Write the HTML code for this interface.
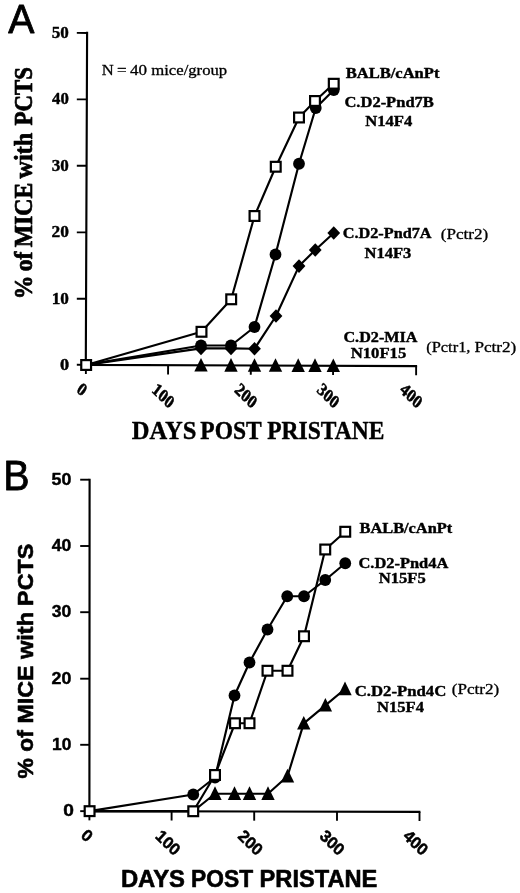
<!DOCTYPE html>
<html><head><meta charset="utf-8"><title>Figure</title>
<style>
html,body{margin:0;padding:0;background:#fff;}
svg{display:block;}
text{fill:#000;stroke:#000;stroke-width:0.4px;stroke-linejoin:round;}
.ser{font-family:"Liberation Serif",serif;}
.san{font-family:"Liberation Sans",sans-serif;}
.b{font-weight:bold;}
.i{font-style:italic;}
.r{stroke-width:0.3px;}
.big{stroke-width:0.6px;}
.t{stroke-width:0.5px;}
.big2{stroke-width:0.7px;}
.big3{stroke-width:0.8px;}
</style></head><body>
<svg width="520" height="893" viewBox="0 0 520 893">
<rect width="520" height="893" fill="#fff"/>

<g id="panelA">
<text class="san big3" font-size="41" x="8.32" y="32.70" textLength="26.16" lengthAdjust="spacingAndGlyphs">A</text>
<path d="M87.10 31.80 L85.80 364.90 L417.10 366.15" fill="none" stroke="#000" stroke-width="2.15" stroke-linejoin="miter"/>
<line x1="76.80" y1="32.92" x2="87.10" y2="32.95" stroke="#000" stroke-width="1.9"/>
<text class="ser b" font-size="16" x="51.82" y="37.95" textLength="17.07" lengthAdjust="spacingAndGlyphs">50</text>
<line x1="76.80" y1="99.37" x2="86.84" y2="99.40" stroke="#000" stroke-width="1.9"/>
<text class="ser b" font-size="16" x="52.09" y="104.40" textLength="16.79" lengthAdjust="spacingAndGlyphs">40</text>
<line x1="76.80" y1="165.77" x2="86.58" y2="165.80" stroke="#000" stroke-width="1.9"/>
<text class="ser b" font-size="16" x="51.82" y="170.80" textLength="17.07" lengthAdjust="spacingAndGlyphs">30</text>
<line x1="76.80" y1="232.37" x2="86.32" y2="232.40" stroke="#000" stroke-width="1.9"/>
<text class="ser b" font-size="16" x="51.54" y="237.40" textLength="17.36" lengthAdjust="spacingAndGlyphs">20</text>
<line x1="76.80" y1="298.72" x2="86.06" y2="298.75" stroke="#000" stroke-width="1.9"/>
<text class="ser b" font-size="16" x="51.71" y="303.75" textLength="17.18" lengthAdjust="spacingAndGlyphs">10</text>
<line x1="76.80" y1="364.82" x2="85.80" y2="364.85" stroke="#000" stroke-width="1.9"/>
<text class="ser b" font-size="16" x="60.08" y="369.85" textLength="9.14" lengthAdjust="spacingAndGlyphs">0</text>
<line x1="85.90" y1="364.90" x2="85.87" y2="374.10" stroke="#000" stroke-width="1.9"/>
<text class="ser b t" font-size="17" text-anchor="middle" transform="translate(82.00 389.60) rotate(45) skewX(9)" x="0" y="5.3">0</text>
<line x1="168.10" y1="365.21" x2="168.07" y2="374.41" stroke="#000" stroke-width="1.9"/>
<text class="ser b t" font-size="17" text-anchor="middle" transform="translate(163.10 395.90) rotate(45) skewX(9)" x="0" y="5.3">100</text>
<line x1="250.80" y1="365.52" x2="250.77" y2="374.72" stroke="#000" stroke-width="1.9"/>
<text class="ser b t" font-size="17" text-anchor="middle" transform="translate(245.80 395.90) rotate(45) skewX(9)" x="0" y="5.3">200</text>
<line x1="333.10" y1="365.84" x2="333.07" y2="375.04" stroke="#000" stroke-width="1.9"/>
<text class="ser b t" font-size="17" text-anchor="middle" transform="translate(328.10 395.90) rotate(45) skewX(9)" x="0" y="5.3">300</text>
<line x1="416.15" y1="366.15" x2="416.12" y2="375.35" stroke="#000" stroke-width="1.9"/>
<text class="ser b t" font-size="17" text-anchor="middle" transform="translate(411.15 395.90) rotate(45) skewX(9)" x="0" y="5.3">400</text>
<text class="ser b big2" font-size="24.3" transform="translate(32.40 296.70) rotate(-90)" x="-2.49" y="0" textLength="23.67" lengthAdjust="spacingAndGlyphs">%</text>
<text class="ser b big2" font-size="24.3" transform="translate(32.40 270.30) rotate(-90)" x="-1.02" y="0" textLength="19.62" lengthAdjust="spacingAndGlyphs">of</text>
<text class="ser b big2" font-size="24.3" transform="translate(32.40 246.70) rotate(-90)" x="-0.54" y="0" textLength="64.40" lengthAdjust="spacingAndGlyphs">MICE</text>
<text class="ser b big2" font-size="24.3" transform="translate(32.40 178.40) rotate(-90)" x="-0.05" y="0" textLength="45.70" lengthAdjust="spacingAndGlyphs">with</text>
<text class="ser b big2" font-size="24.3" transform="translate(32.40 125.05) rotate(-90)" x="-0.52" y="0" textLength="58.46" lengthAdjust="spacingAndGlyphs">PCTS</text>
<text class="ser b" font-size="24.8" x="131.81" y="438.60" textLength="64.57" lengthAdjust="spacingAndGlyphs">DAYS</text>
<text class="ser b" font-size="24.8" x="200.33" y="438.60" textLength="61.43" lengthAdjust="spacingAndGlyphs">POST</text>
<text class="ser b" font-size="24.8" x="267.13" y="438.60" textLength="117.21" lengthAdjust="spacingAndGlyphs">PRISTANE</text>
<text class="ser r" font-size="14.8" x="101.74" y="74.50" textLength="11.95" lengthAdjust="spacingAndGlyphs">N</text>
<text class="ser r" font-size="14.8" x="117.13" y="74.50" textLength="9.66" lengthAdjust="spacingAndGlyphs">=</text>
<text class="ser r" font-size="14.8" x="130.01" y="74.50" textLength="17.07" lengthAdjust="spacingAndGlyphs">40</text>
<text class="ser r" font-size="14.8" x="151.27" y="74.50" textLength="75.90" lengthAdjust="spacingAndGlyphs">mice/group</text>
<polygon fill="#000" points="194.30,371.54 201.00,357.94 207.70,371.54"/>
<polygon fill="#000" points="224.30,371.65 231.00,358.05 237.70,371.65"/>
<polygon fill="#000" points="247.80,371.74 254.50,358.14 261.20,371.74"/>
<polygon fill="#000" points="268.80,371.82 275.50,358.22 282.20,371.82"/>
<polygon fill="#000" points="291.50,371.90 298.20,358.30 304.90,371.90"/>
<polygon fill="#000" points="308.30,371.97 315.00,358.37 321.70,371.97"/>
<polygon fill="#000" points="326.60,372.04 333.30,358.44 340.00,372.04"/>
<polyline fill="none" stroke="#000" stroke-width="2.15" stroke-linejoin="round" points="85.90,364.90 201.00,348.40 231.00,348.40 254.50,348.80 276.00,316.00 299.00,266.10 315.25,250.00 333.75,233.00"/>
<polygon fill="#000" points="194.60,348.40 201.00,341.60 207.40,348.40 201.00,355.20"/>
<polygon fill="#000" points="224.60,348.40 231.00,341.60 237.40,348.40 231.00,355.20"/>
<polygon fill="#000" points="248.10,348.80 254.50,342.00 260.90,348.80 254.50,355.60"/>
<polygon fill="#000" points="269.60,316.00 276.00,309.20 282.40,316.00 276.00,322.80"/>
<polygon fill="#000" points="292.60,266.10 299.00,259.30 305.40,266.10 299.00,272.90"/>
<polygon fill="#000" points="308.85,250.00 315.25,243.20 321.65,250.00 315.25,256.80"/>
<polygon fill="#000" points="327.35,233.00 333.75,226.20 340.15,233.00 333.75,239.80"/>
<polyline fill="none" stroke="#000" stroke-width="2.15" stroke-linejoin="round" points="85.90,364.90 201.00,345.50 231.00,345.50 254.50,327.00 275.50,254.50 299.00,163.75 315.75,108.00 333.75,90.00"/>
<circle cx="201.00" cy="345.50" r="5.9" fill="#000"/>
<circle cx="231.00" cy="345.50" r="5.9" fill="#000"/>
<circle cx="254.50" cy="327.00" r="5.9" fill="#000"/>
<circle cx="275.50" cy="254.50" r="5.9" fill="#000"/>
<circle cx="299.00" cy="163.75" r="5.9" fill="#000"/>
<circle cx="315.75" cy="108.00" r="5.9" fill="#000"/>
<circle cx="333.75" cy="90.00" r="5.9" fill="#000"/>
<polyline fill="none" stroke="#000" stroke-width="2.15" stroke-linejoin="round" points="86.15,365.00 201.50,331.80 231.20,299.30 254.50,216.00 275.75,166.75 299.00,117.50 315.00,101.00 333.75,83.75"/>
<rect x="81.25" y="360.10" width="9.80" height="9.80" fill="#fff" stroke="#000" stroke-width="2.2"/>
<rect x="196.60" y="326.90" width="9.80" height="9.80" fill="#fff" stroke="#000" stroke-width="2.2"/>
<rect x="226.30" y="294.40" width="9.80" height="9.80" fill="#fff" stroke="#000" stroke-width="2.2"/>
<rect x="249.60" y="211.10" width="9.80" height="9.80" fill="#fff" stroke="#000" stroke-width="2.2"/>
<rect x="270.85" y="161.85" width="9.80" height="9.80" fill="#fff" stroke="#000" stroke-width="2.2"/>
<rect x="294.10" y="112.60" width="9.80" height="9.80" fill="#fff" stroke="#000" stroke-width="2.2"/>
<rect x="310.10" y="96.10" width="9.80" height="9.80" fill="#fff" stroke="#000" stroke-width="2.2"/>
<rect x="328.85" y="78.85" width="9.80" height="9.80" fill="#fff" stroke="#000" stroke-width="2.2"/>
<text class="ser b" font-size="15.0" x="345.67" y="77.60" textLength="93.78" lengthAdjust="spacingAndGlyphs">BALB/cAnPt</text>
<text class="ser b" font-size="15.0" x="344.43" y="106.80" textLength="89.39" lengthAdjust="spacingAndGlyphs">C.D2-Pnd7B</text>
<text class="ser b" font-size="15.0" x="365.22" y="125.70" textLength="47.05" lengthAdjust="spacingAndGlyphs">N14F4</text>
<text class="ser b" font-size="15.0" x="342.69" y="238.40" textLength="88.91" lengthAdjust="spacingAndGlyphs">C.D2-Pnd7A</text>
<text class="ser b" font-size="15.0" x="364.47" y="258.00" textLength="46.82" lengthAdjust="spacingAndGlyphs">N14F3</text>
<text class="ser r" font-size="15" x="440.75" y="239.00" textLength="47.40" lengthAdjust="spacingAndGlyphs">(Pctr2)</text>
<text class="ser b" font-size="15.0" x="343.44" y="341.70" textLength="74.06" lengthAdjust="spacingAndGlyphs">C.D2-MIA</text>
<text class="ser b" font-size="15.0" x="350.72" y="357.70" textLength="55.58" lengthAdjust="spacingAndGlyphs">N10F15</text>
<text class="ser r" font-size="15" x="426.18" y="351.60" textLength="44.32" lengthAdjust="spacingAndGlyphs">(Pctr1,</text>
<text class="ser r" font-size="15" x="474.43" y="351.60" textLength="41.92" lengthAdjust="spacingAndGlyphs">Pctr2)</text>
</g>
<g id="panelB">
<text class="san big3" font-size="42.3" x="3.23" y="489.60" textLength="26.32" lengthAdjust="spacingAndGlyphs">B</text>
<path d="M89.60 478.70 L89.40 811.15 L420.40 811.80" fill="none" stroke="#000" stroke-width="2.15" stroke-linejoin="miter"/>
<line x1="80.20" y1="479.70" x2="89.30" y2="479.70" stroke="#000" stroke-width="1.9"/>
<text class="san b" font-size="15.8" x="51.59" y="484.60" textLength="19.81" lengthAdjust="spacingAndGlyphs">50</text>
<line x1="80.20" y1="546.00" x2="89.30" y2="546.00" stroke="#000" stroke-width="1.9"/>
<text class="san b" font-size="15.8" x="51.87" y="550.90" textLength="19.51" lengthAdjust="spacingAndGlyphs">40</text>
<line x1="80.20" y1="612.20" x2="89.30" y2="612.20" stroke="#000" stroke-width="1.9"/>
<text class="san b" font-size="15.8" x="51.87" y="617.10" textLength="19.51" lengthAdjust="spacingAndGlyphs">30</text>
<line x1="80.20" y1="678.70" x2="89.30" y2="678.70" stroke="#000" stroke-width="1.9"/>
<text class="san b" font-size="15.8" x="51.59" y="683.60" textLength="19.81" lengthAdjust="spacingAndGlyphs">20</text>
<line x1="80.20" y1="744.80" x2="89.30" y2="744.80" stroke="#000" stroke-width="1.9"/>
<text class="san b" font-size="15.8" x="52.05" y="749.70" textLength="19.33" lengthAdjust="spacingAndGlyphs">10</text>
<line x1="80.20" y1="811.15" x2="89.30" y2="811.15" stroke="#000" stroke-width="1.9"/>
<text class="san b" font-size="15.8" x="63.34" y="815.75" textLength="10.66" lengthAdjust="spacingAndGlyphs">0</text>
<line x1="89.40" y1="811.15" x2="89.40" y2="820.35" stroke="#000" stroke-width="1.9"/>
<text class="san b t" font-size="16.5" text-anchor="middle" transform="translate(87.10 835.50) rotate(45) skewX(3)" x="0" y="5.6">0</text>
<line x1="171.60" y1="811.31" x2="171.60" y2="820.51" stroke="#000" stroke-width="1.9"/>
<text class="san b t" font-size="16.5" text-anchor="middle" transform="translate(167.90 842.70) rotate(45) skewX(3)" x="0" y="5.6">100</text>
<line x1="254.20" y1="811.47" x2="254.20" y2="820.67" stroke="#000" stroke-width="1.9"/>
<text class="san b t" font-size="16.5" text-anchor="middle" transform="translate(250.50 842.70) rotate(45) skewX(3)" x="0" y="5.6">200</text>
<line x1="337.00" y1="811.64" x2="337.00" y2="820.84" stroke="#000" stroke-width="1.9"/>
<text class="san b t" font-size="16.5" text-anchor="middle" transform="translate(332.30 842.70) rotate(45) skewX(3)" x="0" y="5.6">300</text>
<line x1="419.50" y1="811.80" x2="419.50" y2="821.00" stroke="#000" stroke-width="1.9"/>
<text class="san b t" font-size="16.5" text-anchor="middle" transform="translate(415.80 842.70) rotate(45) skewX(3)" x="0" y="5.6">400</text>
<text class="san b big" font-size="22.6" transform="translate(33.30 777.90) rotate(-90)" x="-0.61" y="0" textLength="20.41" lengthAdjust="spacingAndGlyphs">%</text>
<text class="san b big" font-size="22.6" transform="translate(33.30 750.90) rotate(-90)" x="-0.86" y="0" textLength="21.48" lengthAdjust="spacingAndGlyphs">of</text>
<text class="san b big" font-size="22.6" transform="translate(33.30 722.00) rotate(-90)" x="-1.64" y="0" textLength="57.99" lengthAdjust="spacingAndGlyphs">MICE</text>
<text class="san b big" font-size="22.6" transform="translate(33.30 659.00) rotate(-90)" x="-0.10" y="0" textLength="47.14" lengthAdjust="spacingAndGlyphs">with</text>
<text class="san b big" font-size="22.6" transform="translate(33.30 604.30) rotate(-90)" x="-1.65" y="0" textLength="62.34" lengthAdjust="spacingAndGlyphs">PCTS</text>
<text class="san b big" font-size="24" x="120.91" y="887.40" textLength="64.06" lengthAdjust="spacingAndGlyphs">DAYS</text>
<text class="san b big" font-size="24" x="191.08" y="887.40" textLength="61.95" lengthAdjust="spacingAndGlyphs">POST</text>
<text class="san b big" font-size="24" x="259.52" y="887.40" textLength="117.88" lengthAdjust="spacingAndGlyphs">PRISTANE</text>
<polyline fill="none" stroke="#000" stroke-width="2.15" stroke-linejoin="round" points="89.50,811.15 193.25,811.25 215.00,793.75 234.50,793.75 249.50,793.75 268.00,793.75 287.50,776.25 303.75,723.40 325.40,705.40 345.00,689.00"/>
<polygon fill="#000" points="208.30,799.95 215.00,786.35 221.70,799.95"/>
<polygon fill="#000" points="227.80,799.95 234.50,786.35 241.20,799.95"/>
<polygon fill="#000" points="242.80,799.95 249.50,786.35 256.20,799.95"/>
<polygon fill="#000" points="261.30,799.95 268.00,786.35 274.70,799.95"/>
<polygon fill="#000" points="280.80,782.45 287.50,768.85 294.20,782.45"/>
<polygon fill="#000" points="297.05,729.60 303.75,716.00 310.45,729.60"/>
<polygon fill="#000" points="318.70,711.60 325.40,698.00 332.10,711.60"/>
<polygon fill="#000" points="338.30,695.20 345.00,681.60 351.70,695.20"/>
<polyline fill="none" stroke="#000" stroke-width="2.15" stroke-linejoin="round" points="89.50,811.15 193.25,794.50 215.00,777.50 234.50,695.50 249.50,662.50 267.50,629.50 287.25,596.25 304.00,596.25 325.25,580.00 345.25,563.25"/>
<circle cx="193.25" cy="794.50" r="5.9" fill="#000"/>
<circle cx="215.00" cy="777.50" r="5.9" fill="#000"/>
<circle cx="234.50" cy="695.50" r="5.9" fill="#000"/>
<circle cx="249.50" cy="662.50" r="5.9" fill="#000"/>
<circle cx="267.50" cy="629.50" r="5.9" fill="#000"/>
<circle cx="287.25" cy="596.25" r="5.9" fill="#000"/>
<circle cx="304.00" cy="596.25" r="5.9" fill="#000"/>
<circle cx="325.25" cy="580.00" r="5.9" fill="#000"/>
<circle cx="345.25" cy="563.25" r="5.9" fill="#000"/>
<polyline fill="none" stroke="#000" stroke-width="2.15" stroke-linejoin="round" points="89.60,811.15 193.25,811.25 215.00,775.00 235.00,723.25 249.50,723.25 267.50,670.75 287.50,670.75 304.00,636.25 325.25,549.50 345.25,531.75"/>
<rect x="84.70" y="806.25" width="9.80" height="9.80" fill="#fff" stroke="#000" stroke-width="2.2"/>
<rect x="188.35" y="806.35" width="9.80" height="9.80" fill="#fff" stroke="#000" stroke-width="2.2"/>
<rect x="210.10" y="770.10" width="9.80" height="9.80" fill="#fff" stroke="#000" stroke-width="2.2"/>
<rect x="230.10" y="718.35" width="9.80" height="9.80" fill="#fff" stroke="#000" stroke-width="2.2"/>
<rect x="244.60" y="718.35" width="9.80" height="9.80" fill="#fff" stroke="#000" stroke-width="2.2"/>
<rect x="262.60" y="665.85" width="9.80" height="9.80" fill="#fff" stroke="#000" stroke-width="2.2"/>
<rect x="282.60" y="665.85" width="9.80" height="9.80" fill="#fff" stroke="#000" stroke-width="2.2"/>
<rect x="299.10" y="631.35" width="9.80" height="9.80" fill="#fff" stroke="#000" stroke-width="2.2"/>
<rect x="320.35" y="544.60" width="9.80" height="9.80" fill="#fff" stroke="#000" stroke-width="2.2"/>
<rect x="340.35" y="526.85" width="9.80" height="9.80" fill="#fff" stroke="#000" stroke-width="2.2"/>
<text class="ser b" font-size="15.0" x="359.48" y="533.25" textLength="92.78" lengthAdjust="spacingAndGlyphs">BALB/cAnPt</text>
<text class="ser b" font-size="15.0" x="358.43" y="567.70" textLength="89.92" lengthAdjust="spacingAndGlyphs">C.D2-Pnd4A</text>
<text class="ser b" font-size="15.0" x="378.72" y="583.45" textLength="47.08" lengthAdjust="spacingAndGlyphs">N15F5</text>
<text class="ser b" font-size="15.0" x="354.66" y="695.60" textLength="91.60" lengthAdjust="spacingAndGlyphs">C.D2-Pnd4C</text>
<text class="ser b" font-size="15.0" x="377.07" y="711.50" textLength="46.95" lengthAdjust="spacingAndGlyphs">N15F4</text>
<text class="ser r" font-size="15" x="451.75" y="693.60" textLength="47.40" lengthAdjust="spacingAndGlyphs">(Pctr2)</text>
</g>
</svg></body></html>
